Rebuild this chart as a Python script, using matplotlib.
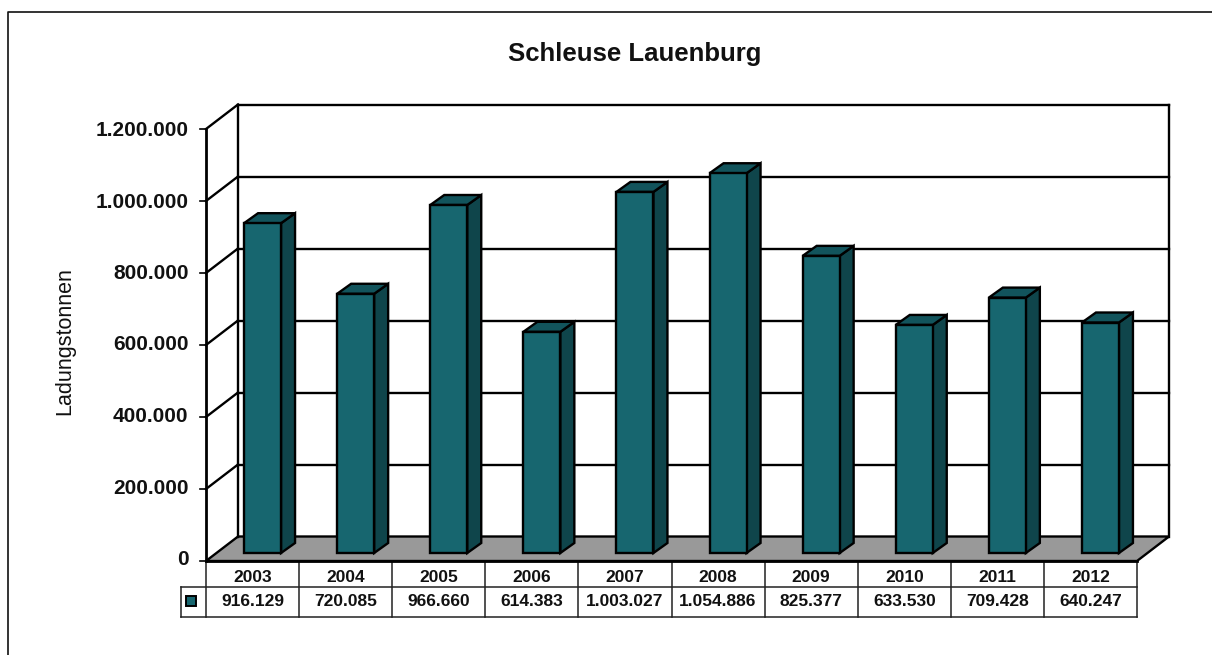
import matplotlib
matplotlib.use("Agg")
import matplotlib.pyplot as plt
from matplotlib.patches import Polygon, Rectangle

plt.rcParams['font.family'] = ['Liberation Sans', 'DejaVu Sans']

# --- DADOS ---
TITLE = "Schleuse Lauenburg"
YLABEL = "Ladungstonnen"
years = ["2003", "2004", "2005", "2006", "2007", "2008", "2009", "2010", "2011", "2012"]
values = [916129, 720085, 966660, 614383, 1003027, 1054886, 825377, 633530, 709428, 640247]
value_labels = ["916.129", "720.085", "966.660", "614.383", "1.003.027",
                "1.054.886", "825.377", "633.530", "709.428", "640.247"]
y_ticks = [0, 200000, 400000, 600000, 800000, 1000000, 1200000]
y_tick_labels = ["0", "200.000", "400.000", "600.000", "800.000", "1.000.000", "1.200.000"]

W, H = 1212, 655
FRONT_L, FRONT_R, FRONT_B, FRONT_T = 206, 1137, 561, 129
YMAX = 1200000

BAR_FRONT = "#17666f"
BAR_SIDE = "#0f454b"
BAR_TOP = "#12545c"
FLOOR = "#999999"

fig = plt.figure(figsize=(W / 100, H / 100), dpi=100, facecolor="white")
ax = fig.add_axes([FRONT_L / W, 1 - FRONT_B / H, (FRONT_R - FRONT_L) / W, (FRONT_B - FRONT_T) / H])
ax.set_xlim(0, len(years))
ax.set_ylim(0, YMAX)
ax.axis("off")

# conversão de pixeis para unidades de dados (profundidade oblíqua)
ux = len(years) / (FRONT_R - FRONT_L)
uy = YMAX / (FRONT_B - FRONT_T)
wall_dx, wall_dy = 32 * ux, 24.5 * uy
bar_dx, bar_dy = 14 * ux, 10 * uy
bar_off_x, bar_off_y = 10 * ux, 8 * uy
bar_w = 37 * ux
n = len(years)
LW = 1.7


def poly(pts, fc, lw=LW, z=2):
    ax.add_patch(Polygon(pts, closed=True, facecolor=fc, edgecolor="black", linewidth=lw,
                         joinstyle="miter", clip_on=False, zorder=z))


# chão cinzento
poly([(0, 0), (n, 0), (n + wall_dx, wall_dy), (wall_dx, wall_dy)], FLOOR, z=1)

# grelha da parede de trás e parede lateral
for t in y_ticks[1:]:
    ax.plot([wall_dx, n + wall_dx], [t + wall_dy] * 2, color="black", lw=LW, clip_on=False, zorder=1)
    ax.plot([0, wall_dx], [t, t + wall_dy], color="black", lw=LW, clip_on=False, zorder=1)
ax.plot([0, 0], [0, YMAX], color="black", lw=LW + 0.3, clip_on=False, zorder=1)
ax.plot([wall_dx, wall_dx], [wall_dy, YMAX + wall_dy], color="black", lw=LW, clip_on=False, zorder=1)
ax.plot([n + wall_dx] * 2, [wall_dy, YMAX + wall_dy], color="black", lw=LW, clip_on=False, zorder=1)

# marcas e etiquetas do eixo y
for t, lab in zip(y_ticks, y_tick_labels):
    ax.plot([-6 * ux, 0], [t, t], color="black", lw=1.2, clip_on=False, zorder=1)
    # as etiquetas do original ficam ligeiramente mais juntas que as marcas
    ax.text(-17.5 * ux, t * 429 / 432 + 1.5 * uy, lab, ha="right", va="center", fontsize=15,
            fontweight="bold", color="#111111")

# barras 3D
for i, v in enumerate(values):
    left = i + 0.5 + bar_off_x - bar_w / 2
    right = left + bar_w
    bot = bar_off_y
    top = v + bar_off_y
    poly([(right, bot), (right + bar_dx, bot + bar_dy), (right + bar_dx, top + bar_dy), (right, top)], BAR_SIDE, z=3)
    poly([(left, top), (right, top), (right + bar_dx, top + bar_dy), (left + bar_dx, top + bar_dy)], BAR_TOP, z=3)
    ax.bar(left, v, width=bar_w, bottom=bot, align="edge", color=BAR_FRONT, edgecolor="black",
           linewidth=LW, zorder=4, clip_on=False)

# tabela de dados
row1 = -26 * uy
row2 = -56 * uy
key_l = -25 * ux
ax.plot([0, n], [0, 0], color="black", lw=LW + 0.3, clip_on=False, zorder=5)
ax.plot([key_l, n], [row1, row1], color="#222222", lw=1.1, clip_on=False)
ax.plot([key_l, n], [row2, row2], color="#222222", lw=1.1, clip_on=False)
ax.plot([key_l, key_l], [row1, row2], color="#222222", lw=1.1, clip_on=False)
for i in range(n + 1):
    ax.plot([i, i], [0, row2], color="#222222", lw=1.1, clip_on=False)
for i in range(n):
    ax.text(i + 0.5, row1 / 2 - 3 * uy, years[i], ha="center", va="center", fontsize=12.5,
            fontweight="bold", color="#111111")
    ax.text(i + 0.5, (row1 + row2) / 2 + 1 * uy, value_labels[i], ha="center", va="center", fontsize=12.5,
            fontweight="bold", color="#111111")
ax.add_patch(Rectangle((-20.5 * ux, -45 * uy), 10 * ux, 10 * uy, facecolor=BAR_FRONT, edgecolor="black",
                       linewidth=1.4, clip_on=False))

# moldura exterior (só topo e esquerda visíveis)
fig.add_artist(plt.Line2D([7.5 / W, 7.5 / W, 1], [0, 1 - 12 / H, 1 - 12 / H], color="#111111", lw=1.2))

fig.text(634.5 / W, 1 - 54 / H, TITLE, ha="center", va="center", fontsize=18.5, fontweight="bold", color="#111111")
fig.text(65 / W, 1 - 341.5 / H, YLABEL, ha="center", va="center", rotation=90, fontsize=15.5, color="#111111")

fig.savefig("out.png", dpi=100)
